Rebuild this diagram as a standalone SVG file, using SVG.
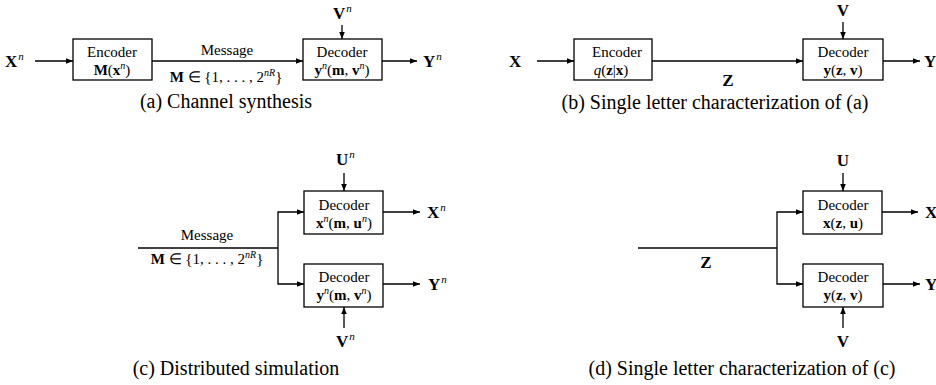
<svg xmlns="http://www.w3.org/2000/svg" width="936" height="385" viewBox="0 0 936 385">
<defs>
<marker id="ah" viewBox="0 0 10 10" refX="10" refY="5" markerWidth="7" markerHeight="7" markerUnits="userSpaceOnUse" orient="auto"><path d="M0,1 L10,5 L0,9 z" fill="#000"/></marker>
<style>
.t{font-family:"Liberation Serif",serif;font-size:15px;fill:#000}
.l{font-family:"Liberation Serif",serif;font-size:17px;font-weight:bold;fill:#000}
.m{text-anchor:middle}
.b{font-weight:bold}
.i{font-style:italic}
.s{font-style:italic;font-weight:normal;font-size:11px}
.cap{font-family:"Liberation Serif",serif;font-size:20px;fill:#000;text-anchor:middle}
.box{fill:#fff;stroke:#000;stroke-width:1.3}
.ln{fill:none;stroke:#000;stroke-width:1.3}
.ar{fill:none;stroke:#000;stroke-width:1.3;marker-end:url(#ah)}
</style>
</defs>
<rect width="936" height="385" fill="#fff"/>

<g id="connectors">
<line class="ar" x1="35" y1="61" x2="73" y2="61"/>
<line class="ar" x1="152" y1="61" x2="303" y2="61"/>
<line class="ar" x1="342" y1="25" x2="342" y2="39"/>
<line class="ar" x1="382" y1="61" x2="417" y2="61"/>
<line class="ar" x1="537" y1="61" x2="574" y2="61"/>
<line class="ar" x1="652" y1="61" x2="803" y2="61"/>
<line class="ar" x1="843" y1="22" x2="843" y2="39"/>
<line class="ar" x1="883" y1="61" x2="920" y2="61"/>
<line class="ln" x1="138" y1="248" x2="278" y2="248"/>
<polyline class="ar" points="278,248 278,212 304,212"/>
<polyline class="ar" points="278,248 278,284 304,284"/>
<line class="ar" x1="344" y1="173" x2="344" y2="191"/>
<line class="ar" x1="344" y1="328" x2="344" y2="307"/>
<line class="ar" x1="383" y1="212" x2="420" y2="212"/>
<line class="ar" x1="383" y1="284" x2="420" y2="284"/>
<line class="ln" x1="638" y1="248" x2="777" y2="248"/>
<polyline class="ar" points="777,248 777,212 803,212"/>
<polyline class="ar" points="777,248 777,284 803,284"/>
<line class="ar" x1="843" y1="173" x2="843" y2="191"/>
<line class="ar" x1="843" y1="328" x2="843" y2="307"/>
<line class="ar" x1="882" y1="212" x2="918" y2="212"/>
<line class="ar" x1="883" y1="284" x2="920" y2="284"/>
</g>

<!-- Panel (a) -->
<g id="a-input"><text class="l" x="5" y="67">X<tspan class="s" dx="1" dy="-7">n</tspan></text></g>
<g id="a-encoder">
<rect class="box" x="73" y="39" width="79" height="41"/>
<text class="t m" x="112" y="57">Encoder</text>
<text class="t m" x="112" y="75"><tspan class="b">M</tspan>(<tspan class="b">x</tspan><tspan class="i" font-size="10" dy="-6">n</tspan><tspan dy="6">)</tspan></text>
</g>
<g id="a-message">
<text class="t m" x="227" y="55">Message</text>
<text class="t m" x="226" y="82"><tspan class="b">M</tspan> ∈ {1, . . . , 2<tspan class="i" font-size="10" dy="-6">nR</tspan><tspan dy="6">}</tspan></text>
</g>
<g id="a-decoder">
<rect class="box" x="303" y="39" width="79" height="41"/>
<text class="t m" x="342" y="57">Decoder</text>
<text class="t m" x="342" y="75"><tspan class="b">y</tspan><tspan class="i" font-size="10" dy="-6">n</tspan><tspan dy="6">(</tspan><tspan class="b">m</tspan>, <tspan class="b">v</tspan><tspan class="i" font-size="10" dy="-6">n</tspan><tspan dy="6">)</tspan></text>
</g>
<g id="a-side"><text class="l" x="333" y="19">V<tspan class="s" dx="1" dy="-7">n</tspan></text></g>
<g id="a-output"><text class="l" x="423" y="67">Y<tspan class="s" dx="1" dy="-7">n</tspan></text></g>
<text class="cap" x="226" y="108">(a) Channel synthesis</text>

<!-- Panel (b) -->
<g id="b-input"><text class="l" x="509" y="67">X</text></g>
<g id="b-encoder">
<rect class="box" x="574" y="39" width="78" height="41"/>
<text class="t m" x="617" y="57">Encoder</text>
<text class="t m" x="611" y="75"><tspan class="i">q</tspan>(<tspan class="b">z</tspan>|<tspan class="b">x</tspan>)</text>
</g>
<g id="b-z"><text class="l m" x="728" y="86" font-size="16">Z</text></g>
<g id="b-decoder">
<rect class="box" x="803" y="39" width="80" height="41"/>
<text class="t m" x="843" y="57">Decoder</text>
<text class="t m" x="843" y="75"><tspan class="b">y</tspan>(<tspan class="b">z</tspan>, <tspan class="b">v</tspan>)</text>
</g>
<g id="b-side"><text class="l m" x="843" y="16">V</text></g>
<g id="b-output"><text class="l" x="924" y="67">Y</text></g>
<text class="cap" x="715" y="109">(b) Single letter characterization of (a)</text>

<!-- Panel (c) -->
<g id="c-message">
<text class="t m" x="207" y="240">Message</text>
<text class="t m" x="207" y="264"><tspan class="b">M</tspan> ∈ {1, . . . , 2<tspan class="i" font-size="10" dy="-6">nR</tspan><tspan dy="6">}</tspan></text>
</g>
<g id="c-decoder1">
<rect class="box" x="304" y="191" width="79" height="43"/>
<text class="t m" x="344" y="210">Decoder</text>
<text class="t m" x="344" y="228"><tspan class="b">x</tspan><tspan class="i" font-size="10" dy="-6">n</tspan><tspan dy="6">(</tspan><tspan class="b">m</tspan>, <tspan class="b">u</tspan><tspan class="i" font-size="10" dy="-6">n</tspan><tspan dy="6">)</tspan></text>
</g>
<g id="c-u"><text class="l" x="336" y="165">U<tspan class="s" dx="1" dy="-7">n</tspan></text></g>
<g id="c-xout"><text class="l" x="427" y="218">X<tspan class="s" dx="1" dy="-7">n</tspan></text></g>
<g id="c-decoder2">
<rect class="box" x="304" y="264" width="79" height="43"/>
<text class="t m" x="344" y="282">Decoder</text>
<text class="t m" x="344" y="300"><tspan class="b">y</tspan><tspan class="i" font-size="10" dy="-6">n</tspan><tspan dy="6">(</tspan><tspan class="b">m</tspan>, <tspan class="b">v</tspan><tspan class="i" font-size="10" dy="-6">n</tspan><tspan dy="6">)</tspan></text>
</g>
<g id="c-yout"><text class="l" x="428" y="290">Y<tspan class="s" dx="1" dy="-7">n</tspan></text></g>
<g id="c-v"><text class="l" x="336" y="347">V<tspan class="s" dx="1" dy="-7">n</tspan></text></g>
<text class="cap" x="236" y="375">(c) Distributed simulation</text>

<!-- Panel (d) -->
<g id="d-z"><text class="l m" x="706" y="268" font-size="16">Z</text></g>
<g id="d-decoder1">
<rect class="box" x="803" y="191" width="79" height="43"/>
<text class="t m" x="843" y="210">Decoder</text>
<text class="t m" x="843" y="228"><tspan class="b">x</tspan>(<tspan class="b">z</tspan>, <tspan class="b">u</tspan>)</text>
</g>
<g id="d-u"><text class="l m" x="843" y="166">U</text></g>
<g id="d-xout"><text class="l" x="925" y="218">X</text></g>
<g id="d-decoder2">
<rect class="box" x="803" y="264" width="80" height="43"/>
<text class="t m" x="843" y="282">Decoder</text>
<text class="t m" x="843" y="300"><tspan class="b">y</tspan>(<tspan class="b">z</tspan>, <tspan class="b">v</tspan>)</text>
</g>
<g id="d-yout"><text class="l" x="925" y="290">Y</text></g>
<g id="d-v"><text class="l m" x="843" y="347">V</text></g>
<text class="cap" x="742" y="375">(d) Single letter characterization of (c)</text>
</svg>
